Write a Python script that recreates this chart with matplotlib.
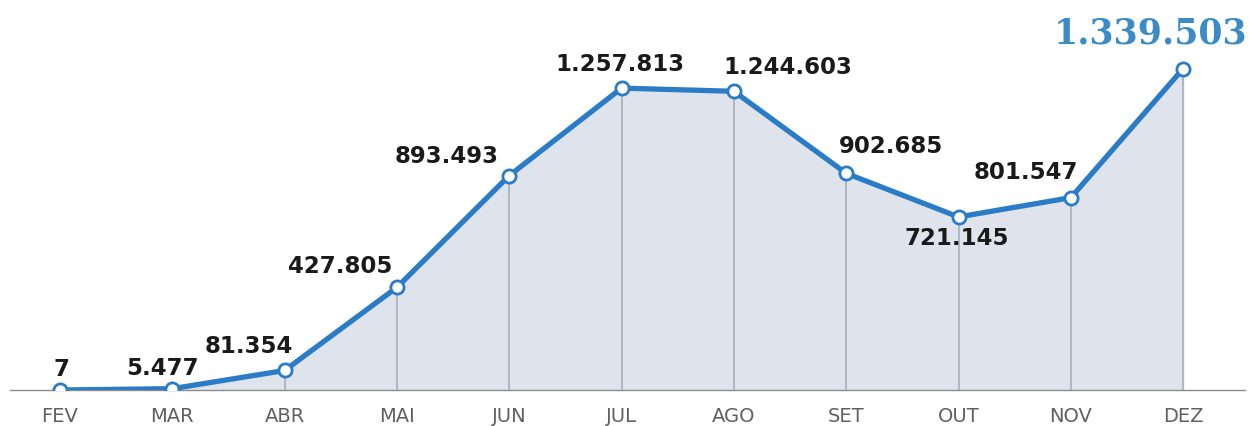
import matplotlib.pyplot as plt
import numpy as np

months = ["FEV", "MAR", "ABR", "MAI", "JUN", "JUL", "AGO", "SET", "OUT", "NOV", "DEZ"]
values = [7, 5477, 81354, 427805, 893493, 1257813, 1244603, 902685, 721145, 801547, 1339503]
labels = ["7", "5.477", "81.354", "427.805", "893.493", "1.257.813", "1.244.603",
          "902.685", "721.145", "801.547", "1.339.503"]
# label offsets in pixels from each point
offsets = [(2, 20), (-10, 20), (-36, 24), (-57, 21), (-63, 19), (-2, 24), (54, 24),
           (45, 27), (-2, -22), (-45, 25), (-33, 35)]

LINE = "#2a7cc6"
FILL = "#dfe4ec"

fig = plt.figure(figsize=(12.49, 4.26), dpi=100)
ax = fig.add_axes([10 / 1249, 36 / 426, 1235 / 1249, 390 / 426])

x = np.arange(len(months))
ax.fill_between(x, 0, values, color=FILL, zorder=1)
ax.vlines(x, 0, values, color="#aab3bf", lw=1.3, zorder=2)
ax.plot(x, values, color=LINE, lw=3.8, zorder=3, solid_joinstyle="round",
        marker="o", markersize=9.5, markerfacecolor="white", markeredgecolor=LINE,
        markeredgewidth=2)

for i, (lab, (dx, dy)) in enumerate(zip(labels, offsets)):
    if i == len(labels) - 1:
        ax.annotate(lab, (x[i], values[i]), xytext=(dx, dy), textcoords="offset pixels",
                    ha="center", va="center", fontsize=25, family="DejaVu Serif",
                    fontweight="bold", color="#3b8cc6", zorder=5)
    else:
        ax.annotate(lab, (x[i], values[i]), xytext=(dx, dy), textcoords="offset pixels",
                    ha="center", va="center", fontsize=16.5, family="DejaVu Sans",
                    fontweight="bold", color="#1a1a1a", zorder=5)

ax.set_xlim(-0.445, 10.55)
ax.set_ylim(0, 1625000)
ax.set_xticks(x)
ax.set_xticklabels(months, fontsize=14, color="#606060", family="DejaVu Sans")
ax.tick_params(axis="x", length=0, pad=12)
ax.set_yticks([])
for side in ["top", "left", "right"]:
    ax.spines[side].set_visible(False)
ax.spines["bottom"].set_color("#8c8c8c")
ax.spines["bottom"].set_linewidth(1.0)
ax.patch.set_alpha(0)

fig.savefig("out.png", dpi=100)
